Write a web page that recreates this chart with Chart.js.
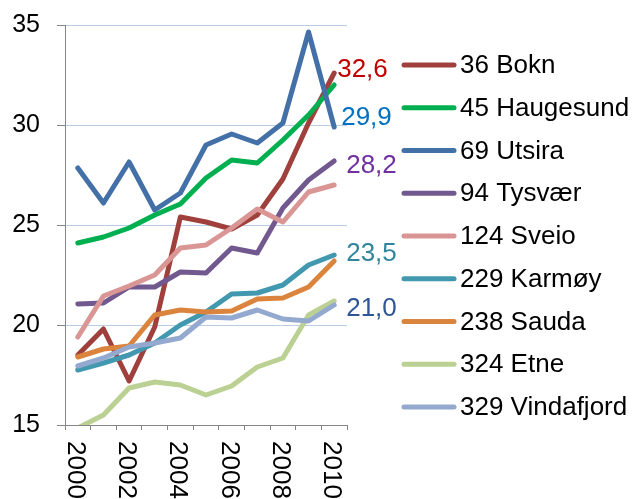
<!DOCTYPE html>
<html>
<head>
<meta charset="utf-8">
<script src="https://cdn.jsdelivr.net/npm/chart.js@4/dist/chart.umd.min.js"></script>
<style>
  body { margin: 0; background: #fff; }
  #wrap { width: 633px; height: 499px; }
</style>
</head>
<body>
<div id="wrap"><canvas id="grafico"></canvas></div>
<script>
// år og kommuner
const years = ['2000', '2001', '2002', '2003', '2004', '2005', '2006', '2007', '2008', '2009', '2010'];
const seriesNames = ['36 Bokn', '45 Haugesund', '69 Utsira', '94 Tysvær', '124 Sveio', '229 Karmøy', '238 Sauda', '324 Etne', '329 Vindafjord'];
const seriesColors = ['#A0403D', '#00B050', '#4470A8', '#71588F', '#D99694', '#4198AF', '#DB843D', '#BBD193', '#93A9CF'];

const bokn = [18.5, 19.8, 17.2, 19.9, 25.4, 25.15, 24.8, 25.5, 27.3, 30.1, 32.6];
const haugesund = [24.1, 24.4, 24.85, 25.5, 26.05, 27.35, 28.25, 28.1, 29.25, 30.5, 32.0];
const utsira = [27.85, 26.1, 28.15, 25.75, 26.6, 29.0, 29.55, 29.1, 30.1, 34.65, 29.9];
const tysvaer = [21.05, 21.1, 21.9, 21.9, 22.65, 22.6, 23.85, 23.6, 25.85, 27.25, 28.2];
const sveio = [19.4, 21.45, 21.95, 22.5, 23.85, 24.0, 24.85, 25.8, 25.15, 26.65, 27.0];
const karmoy = [17.75, 18.1, 18.5, 19.1, 20.0, 20.65, 21.55, 21.6, 22.0, 23.0, 23.5];
const sauda = [18.4, 18.8, 18.95, 20.5, 20.75, 20.65, 20.7, 21.3, 21.35, 21.9, 23.2];
const etne = [14.85, 15.5, 16.85, 17.15, 17.0, 16.5, 16.95, 17.9, 18.35, 20.5, 21.2];
const vindafjord = [17.95, 18.35, 18.9, 19.1, 19.35, 20.4, 20.35, 20.75, 20.3, 20.2, 21.0];

const seriesValues = [bokn, haugesund, utsira, tysvaer, sveio, karmoy, sauda, etne, vindafjord];

// y-akse
const yMin = 15;
const yMax = 35;
const yStep = 5;

// verdietiketter på siste punkt (serie, farge, forskyvning)
const endLabels = [
    { serie: 0, color: '#C00000', dx: 3, dy: 4 },
    { serie: 2, color: '#0070C0', dx: 7, dy: -2 },
    { serie: 3, color: '#7030A0', dx: 12, dy: 12 },
    { serie: 5, color: '#31859C', dx: 12, dy: 6 },
    { serie: 8, color: '#2F5597', dx: 12, dy: 11 }
];

const FONT = '"Liberation Sans", Arial, sans-serif';

const datasets = seriesValues.map(function (vals, i) {
    return {
        label: seriesNames[i],
        data: vals,
        borderColor: seriesColors[i],
        backgroundColor: seriesColors[i],
        borderWidth: 5,
        borderCapStyle: 'round',
        borderJoinStyle: 'round',
        pointRadius: 0,
        tension: 0,
        order: seriesNames.length - i   // siste serie øverst, som i Excel
    };
});

// egne tegninger: x-etiketter (rotert), verdietiketter og forklaring
const ekstra = {
    id: 'ekstra',
    afterDraw(chart) {
        const ctx = chart.ctx;
        const xs = chart.scales.x;
        const ys = chart.scales.y;

        ctx.save();
        ctx.fillStyle = '#000';
        ctx.font = '26px ' + FONT;
        ctx.textAlign = 'left';
        ctx.textBaseline = 'alphabetic';
        for (let i = 0; i < years.length; i += 2) {
            const x = xs.getPixelForValue(i);
            ctx.save();
            ctx.translate(x, chart.chartArea.bottom + 16);
            ctx.rotate(Math.PI / 2);
            ctx.fillText(years[i], 0, 10);
            ctx.restore();
        }

        endLabels.forEach(function (lab) {
            const vals = seriesValues[lab.serie];
            const last = vals.length - 1;
            const x = xs.getPixelForValue(last);
            const y = ys.getPixelForValue(vals[last]);
            ctx.fillStyle = lab.color;
            ctx.fillText(vals[last].toFixed(1).replace('.', ','), x + lab.dx, y + lab.dy);
        });

        // forklaring
        const lx = 402, lw = 54, top = 65, step = 42.75;
        ctx.lineCap = 'round';
        ctx.lineWidth = 5;
        ctx.textBaseline = 'middle';
        seriesNames.forEach(function (name, i) {
            const y = top + i * step;
            ctx.strokeStyle = seriesColors[i];
            ctx.beginPath();
            ctx.moveTo(lx + 2, y);
            ctx.lineTo(lx + lw - 2, y);
            ctx.stroke();
            ctx.fillStyle = '#000';
            ctx.fillText(name, lx + lw + 4, y + 1);
        });
        ctx.restore();
    }
};

new Chart(document.getElementById('grafico').getContext('2d'), {
    type: 'line',
    data: {
        labels: years,
        datasets: datasets
    },
    options: {
        responsive: true,
        maintainAspectRatio: false,
        animation: false,
        layout: {
            padding: { top: 25, right: 286, bottom: 0, left: 0 }
        },
        plugins: {
            legend: { display: false },
            tooltip: { enabled: false }
        },
        scales: {
            x: {
                offset: true,
                grid: {
                    offset: true,
                    drawOnChartArea: false,
                    color: '#868686',
                    tickLength: 5
                },
                border: { color: '#868686', width: 1 },
                ticks: { display: false },
                afterFit: function (scale) {
                    scale.height = 74;
                    scale.paddingTop = 0;
                    scale.paddingBottom = 0;
                }
            },
            y: {
                min: yMin,
                max: yMax,
                ticks: {
                    stepSize: yStep,
                    color: '#000',
                    padding: 17,
                    font: { family: FONT, size: 25 }
                },
                grid: {
                    color: '#B9CDE5',
                    tickColor: '#868686',
                    tickLength: 8,
                    lineWidth: 1
                },
                border: { color: '#868686', width: 1 },
                afterFit: function (scale) {
                    scale.width = 65;
                    scale.paddingTop = 0;
                    scale.paddingBottom = 0;
                }
            }
        }
    },
    plugins: [ekstra]
});
</script>
</body>
</html>
